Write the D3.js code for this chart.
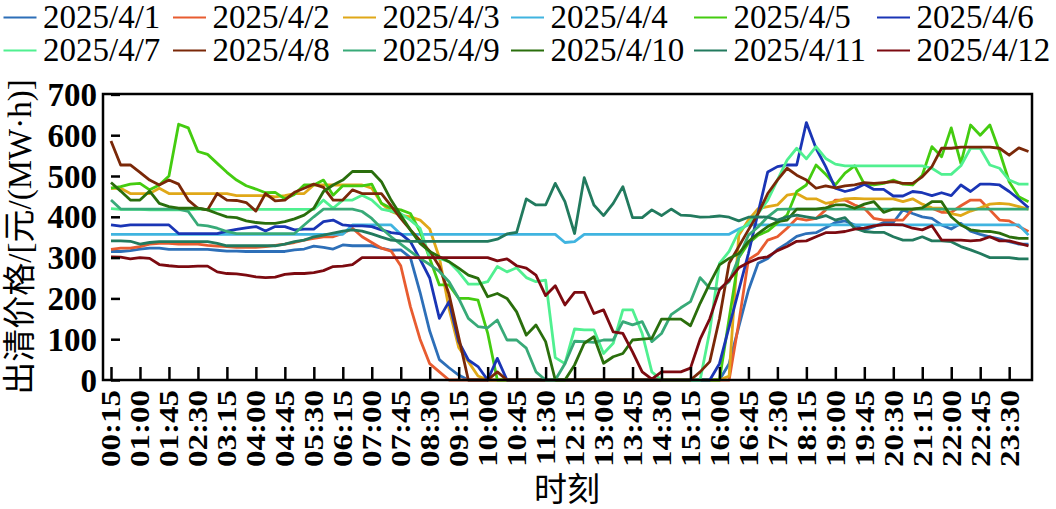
<!DOCTYPE html>
<html>
<head>
<meta charset="utf-8">
<script src="https://cdn.jsdelivr.net/npm/d3@7"></script>
<style>
  body { margin: 0; background: #fff; }
  text { font-family: "Liberation Serif", "Times New Roman", "Noto Sans CJK SC", serif; }
</style>
</head>
<body>
<svg id="myGraph" width="1056" height="509"></svg>
<script>
// tick labels (every 45 min), values are 96 points 00:15..24:00
var tickLabels = ["00:15","01:00","01:45","02:30","03:15","04:00","04:45","05:30","06:15","07:00","07:45",
  "08:30","09:15","10:00","10:45","11:30","12:15","13:00","13:45","14:30","15:15","16:00","16:45",
  "17:30","18:15","19:00","19:45","20:30","21:15","22:00","22:45","23:30"];
var yTicks = [0, 100, 200, 300, 400, 500, 600, 700];

var seriesNames = ["2025/4/1","2025/4/2","2025/4/3","2025/4/4","2025/4/5","2025/4/6",
  "2025/4/7","2025/4/8","2025/4/9","2025/4/10","2025/4/11","2025/4/12"];
var seriesColors = ["#2d6fb8","#e85c30","#e0a818","#40b4e0","#44cc10","#1a35b5",
  "#50f090","#7a2808","#38aa78","#2a6e0c","#227a5e","#7c0a10"];

var p0401 = [315,315,317,321,323,323,320,320,320,320, 320,318,316,316,315,315,315,315,315,319,
  321,328,325,321,331,329,329,329,323,318, 319,300,215,120,50,30,12,0,0,0,
  0,0,0,0,0,0,0,0,0,0, 0,0,0,0,0,0,0,0,0,0,
  0,0,0,0,40,130,220,286,298,320, 335,352,359,361,373,386,390,380,368,376,
  386,386,417,408,400,396,380,370,384,365, 357,351,346,339,333,333];
var p0402 = [320,323,323,327,333,335,335,333,333,333, 330,328,327,325,325,325,327,330,333,337,
  343,347,351,351,359,372,351,337,323,316, 280,180,100,40,20,0,0,0,0,0,
  0,0,0,0,0,0,0,0,0,0, 0,0,0,0,0,0,0,0,0,0,
  0,0,0,0,0,140,295,310,343,351, 372,396,392,396,417,441,441,429,421,396,
  392,392,392,419,421,421,411,411,427,441, 441,417,392,390,376,364];
var p0403 = [470,470,457,457,457,470,457,457,457,457, 457,457,457,452,452,452,452,449,452,457,
  457,478,478,478,478,478,478,470,433,413, 404,400,392,370,300,175,80,45,10,0,
  0,0,0,0,0,0,0,0,0,0, 0,0,0,0,0,0,0,0,0,0,
  0,0,0,0,10,355,392,420,425,429, 453,457,444,444,433,437,444,445,444,444,
  444,444,437,444,431,422,421,408,403,414, 422,431,433,431,425,419];
var p0404 = [357,357,357,357,357,357,357,357,357,357, 357,357,357,357,357,357,357,357,357,357,
  357,357,357,357,357,380,380,380,380,380, 357,357,357,357,357,357,357,357,357,357,
  357,357,357,357,357,357,357,337,339,357, 357,357,357,357,357,357,357,357,357,357,
  357,357,357,357,357,370,380,380,380,380, 380,380,380,380,380,380,380,380,380,380,
  380,380,380,380,380,380,380,380,380,380, 380,380,380,380,380,355];
var p0405 = [470,474,480,482,466,478,500,627,618,560, 553,531,509,490,476,468,459,460,444,455,
  478,478,490,453,476,476,476,480,433,421, 417,408,364,298,233,233,200,200,196,115,
  0,0,0,0,0,0,0,0,0,0, 0,0,0,0,0,0,0,0,0,0,
  0,0,0,0,150,300,335,355,365,385, 404,462,478,527,504,478,507,525,480,478,
  482,490,480,478,502,572,547,618,531,625, 600,625,560,486,449,437];
var p0406 = [380,377,380,380,380,380,380,359,359,359, 359,359,365,369,373,376,365,376,376,368,
  370,370,388,392,380,378,378,376,368,361, 358,339,296,250,151,192,94,49,33,0,
  53,0,0,0,0,0,0,0,0,0, 0,0,0,0,0,0,0,0,0,0,
  0,0,0,40,130,220,310,410,510,523, 527,527,631,568,523,470,462,468,480,467,
  467,451,451,462,459,452,459,452,478,462, 480,480,478,462,443,422];
var p0407 = [420,418,418,418,417,417,417,417,417,418, 418,418,418,418,418,418,418,418,418,418,
  418,418,441,421,441,441,453,441,419,414, 408,392,372,300,298,290,265,235,235,241,
  278,265,275,251,241,245,55,40,125,123, 123,65,90,172,172,114,20,0,0,0,
  0,0,120,286,315,364,384,408,441,490, 539,568,542,572,543,529,525,525,525,525,
  525,525,525,525,525,519,504,504,525,568, 568,527,519,490,480,480];
var p0408 = [586,527,527,509,490,478,490,480,441,421, 417,457,441,440,435,414,457,439,441,460,
  470,480,472,441,441,466,457,457,457,427, 396,368,342,316,278,210,105,0,0,0,
  20,0,0,0,0,0,0,0,0,0, 0,0,0,0,0,0,0,0,0,0,
  0,20,45,150,286,327,368,408,457,490, 519,502,490,470,476,471,476,478,484,482,
  484,486,482,482,498,523,568,568,571,571, 571,571,568,551,569,560];
var p0409 = [441,419,419,419,419,419,419,419,413,380, 378,372,364,359,359,359,359,359,359,359,
  380,400,419,419,419,419,413,396,372,351, 333,315,298,283,266,241,200,151,131,128,
  147,98,98,78,20,0,0,40,95,94, 92,98,98,143,135,143,94,114,160,177,
  192,251,225,223,241,300,355,375,400,418, 419,419,419,419,419,419,419,419,419,419,
  419,419,419,419,419,419,419,419,419,419, 419,419,419,419,419,419];
var p0410 = [484,463,441,441,463,433,425,421,421,421, 417,408,400,398,390,386,384,384,388,395,
  404,421,462,478,490,511,511,511,486,441, 404,368,335,315,302,290,274,257,249,204,
  212,200,167,110,135,94,0,0,37,90, 106,41,57,65,98,100,102,149,149,149,
  133,188,237,282,298,310,339,359,376,388, 392,419,419,419,422,429,429,421,431,437,
  411,419,419,419,422,437,437,400,380,368, 365,364,360,351,347,347];
var p0411 = [341,341,340,333,337,339,339,339,339,339, 339,335,329,329,329,329,329,329,333,339,
  343,351,355,360,365,368,365,358,350,343, 341,340,340,340,340,340,340,340,340,340,
  345,358,362,444,429,429,482,437,359,496, 429,403,433,474,398,398,417,403,419,404,
  403,399,400,402,399,390,399,400,399,392, 400,404,400,396,403,392,398,372,364,362,
  362,351,343,343,351,341,341,339,327,319, 310,300,300,300,297,297];
var p0412 = [302,301,297,300,298,283,280,278,278,279, 279,265,261,260,257,253,251,252,259,261,
  261,263,268,278,279,283,300,300,300,300, 300,300,300,300,300,300,300,300,300,300,
  292,297,280,274,257,207,231,184,215,215, 163,172,118,114,69,20,2,20,20,20,
  29,100,150,221,245,275,288,298,302,317, 327,340,341,351,361,361,364,370,372,378,
  381,381,380,372,368,378,343,343,343,341, 343,351,341,341,335,329];

var seriesData = [p0401,p0402,p0403,p0404,p0405,p0406,p0407,p0408,p0409,p0410,p0411,p0412];

var svg = d3.select("#myGraph");
const LEFT = 103, RIGHT = 1032, TOP = 94, BOTTOM = 380;

// scales
var xscale = d3.scaleLinear().domain([0, 95]).range([111, 1028.5]);
var yscale = d3.scaleLinear().domain([0, 700]).range([BOTTOM, 94.4]);

// lines
var line = d3.line()
  .x(function(d, i){ return xscale(i); })
  .y(function(d){ return yscale(d); });

svg.append("g").selectAll("path")
  .data(seriesData)
  .enter()
  .append("path")
  .attr("d", line)
  .attr("fill", "none")
  .attr("stroke", function(d, i){ return seriesColors[i]; })
  .attr("stroke-width", 2.8)
  .attr("stroke-linejoin", "round");

// box
svg.append("rect")
  .attr("x", LEFT).attr("y", TOP)
  .attr("width", RIGHT - LEFT).attr("height", BOTTOM - TOP)
  .attr("fill", "none").attr("stroke", "#000").attr("stroke-width", 2.5);

// x axis
var xTickIdx = tickLabels.map(function(d, i){ return i * 3; });
var gx = svg.append("g")
  .attr("transform", "translate(0," + BOTTOM + ")")
  .call(d3.axisBottom(xscale).tickValues(xTickIdx).tickSize(-13)
    .tickFormat(function(d){ return tickLabels[d / 3]; }));
gx.select(".domain").remove();
gx.selectAll(".tick line").attr("stroke", "#000").attr("stroke-width", 2.5);
gx.selectAll(".tick text")
  .attr("x", 0).attr("y", 0).attr("dy", null)
  .attr("transform", "translate(0,10) rotate(-90) scale(1,0.82)")
  .attr("text-anchor", "end")
  .attr("dominant-baseline", "central")
  .attr("fill", "#000")
  .style("font-size", "33px")
  .style("font-weight", "bold");

// y axis
var gy = svg.append("g")
  .attr("transform", "translate(111,0)")
  .call(d3.axisLeft(yscale).tickValues(yTicks).tickSize(-9));
gy.select(".domain").remove();
gy.selectAll(".tick line").attr("stroke", "#000").attr("stroke-width", 2.5);
gy.selectAll(".tick text")
  .attr("x", 0).attr("dy", null)
  .attr("transform", "translate(-14,0)")
  .attr("text-anchor", "end")
  .attr("dominant-baseline", "central")
  .attr("fill", "#000")
  .style("font-size", "33px")
  .style("font-weight", "bold");

// axis titles
svg.append("text")
  .attr("transform", "translate(20,237) rotate(-90)")
  .attr("text-anchor", "middle")
  .attr("dominant-baseline", "central")
  .style("font-size", "33px")
  .text("出清价格/[元/(MW·h)]");

svg.append("text")
  .attr("x", 567).attr("y", 490)
  .attr("text-anchor", "middle")
  .attr("dominant-baseline", "central")
  .style("font-size", "33px")
  .text("时刻");

// legend
var colX = [3.5, 173, 343, 511, 694, 877];
var legend = svg.append("g").selectAll("g")
  .data(seriesNames)
  .enter()
  .append("g")
  .attr("transform", function(d, i){
    return "translate(" + colX[i % 6] + "," + (Math.floor(i / 6) * 33) + ")";
  });
legend.append("line")
  .attr("x1", 0).attr("x2", 33)
  .attr("y1", 17.5).attr("y2", 17.5)
  .attr("stroke", function(d, i){ return seriesColors[i]; })
  .attr("stroke-width", 2.2);
legend.append("text")
  .attr("x", 39.5).attr("y", 27.5)
  .style("font-size", "33px")
  .text(function(d){ return d; });
</script>
</body>
</html>
